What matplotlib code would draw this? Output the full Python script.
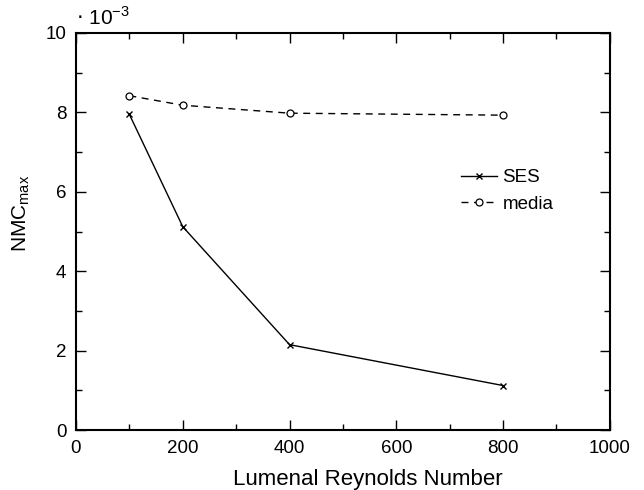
import matplotlib
matplotlib.use("Agg")
import matplotlib.pyplot as plt
from matplotlib.ticker import MultipleLocator

plt.rcParams['font.family'] = ['Liberation Sans', 'DejaVu Sans']

# Reynolds numbers and peak NMC (in units of 1e-3)
reynolds = [100, 200, 400, 800]
nmc_ses = [7.95, 5.12, 2.15, 1.12]
nmc_media = [8.42, 8.18, 7.98, 7.93]

fig = plt.figure(figsize=(6.44, 4.9), dpi=100)
ax = fig.add_axes([0.118, 0.1224, 0.829, 0.8103])

ax.plot(reynolds, nmc_ses, '-', color='black', lw=1.0, marker='x', ms=4, mew=1.0, label='SES')
ax.plot(reynolds, nmc_media, '--', color='black', lw=1.0, marker='o', ms=5, mfc='white', mew=0.9,
        dashes=(5, 4), label='media')

ax.set_xlim(0, 1000)
ax.set_ylim(0, 10)
ax.xaxis.set_major_locator(MultipleLocator(200))
ax.xaxis.set_minor_locator(MultipleLocator(100))
ax.yaxis.set_major_locator(MultipleLocator(2))
ax.yaxis.set_minor_locator(MultipleLocator(1))
ax.tick_params(which='both', direction='in', top=True, right=True, labelsize=13.5, width=1.0, pad=7)
ax.tick_params(which='major', length=7)
ax.tick_params(which='minor', length=4)
for s in ax.spines.values():
    s.set_linewidth(1.5)

ax.set_xlabel('Lumenal Reynolds Number', fontsize=16)
ax.set_ylabel('NMC$_{\\mathregular{max}}$', fontsize=15)
ax.xaxis.set_label_coords(0.547, -0.098)
ax.yaxis.set_label_coords(-0.083, 0.545)
ax.text(0.0, 1.01, '$\\cdot$ 10$^{\\mathregular{-3}}$', transform=ax.transAxes, fontsize=15,
        ha='left', va='bottom')

ax.legend(loc='upper left', bbox_to_anchor=(0.69, 0.70), frameon=False, fontsize=13.5,
          handlelength=1.9, handletextpad=0.3, labelspacing=0.5)

fig.savefig('out.png', dpi=100)
